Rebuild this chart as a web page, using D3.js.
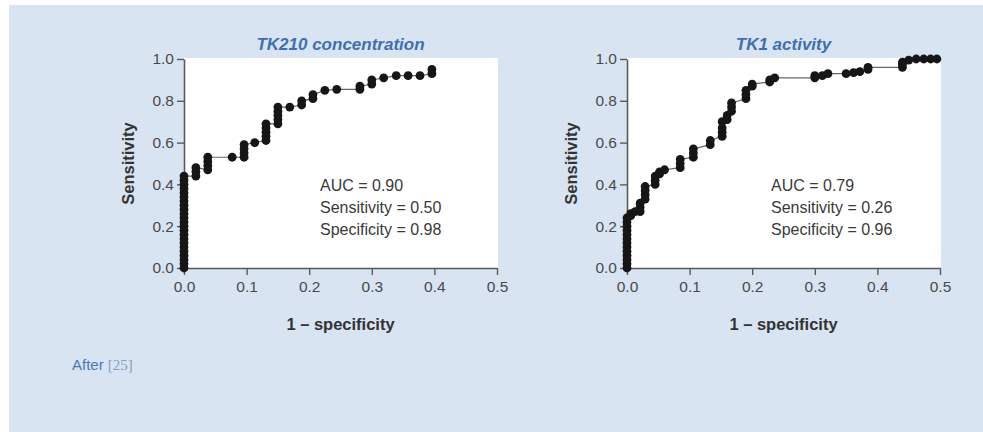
<!DOCTYPE html>
<html>
<head>
<meta charset="utf-8">
<script src="https://cdn.jsdelivr.net/npm/d3@7"></script>
<style>
  html, body { margin: 0; padding: 0; background: #ffffff; }
  svg { display: block; }
</style>
</head>
<body>
<svg id="chart" width="983" height="432"></svg>
<script>
// Axis ticks shared by both ROC panels
const xTicks = [0, 0.1, 0.2, 0.3, 0.4, 0.5];
const yTicks = [0, 0.2, 0.4, 0.6, 0.8, 1.0];

// Panel titles and summary statistics
const panelTitles = ["TK210 concentration", "TK1 activity"];
const tk210Stats = ["AUC = 0.90", "Sensitivity = 0.50", "Specificity = 0.98"];
const tk1Stats = ["AUC = 0.79", "Sensitivity = 0.26", "Specificity = 0.96"];

// ROC points: 1 - specificity and sensitivity, TK210 concentration
const tk210Fpr = [
  0, 0, 0, 0, 0, 0, 0, 0, 0, 0, 0, 0, 0, 0, 0, 0, 0, 0, 0, 0, 0, 0, 0,
  0.019, 0.019, 0.019,
  0.038, 0.038, 0.038, 0.038,
  0.077,
  0.096, 0.096, 0.096, 0.096,
  0.113,
  0.131, 0.131, 0.131, 0.131, 0.131,
  0.150, 0.150, 0.150, 0.150, 0.150,
  0.169,
  0.188, 0.188,
  0.206, 0.206,
  0.225,
  0.244,
  0.281, 0.281,
  0.300, 0.300,
  0.319, 0.339, 0.358, 0.377,
  0.396, 0.396
];
const tk210Sens = [
  0, 0.02, 0.04, 0.06, 0.08, 0.10, 0.12, 0.14, 0.16, 0.18, 0.20, 0.22,
  0.24, 0.26, 0.28, 0.30, 0.32, 0.34, 0.36, 0.38, 0.40, 0.42, 0.44,
  0.44, 0.46, 0.48,
  0.47, 0.49, 0.51, 0.53,
  0.53,
  0.53, 0.55, 0.57, 0.59,
  0.60,
  0.61, 0.63, 0.65, 0.67, 0.69,
  0.69, 0.71, 0.73, 0.75, 0.77,
  0.77,
  0.78, 0.80,
  0.81, 0.83,
  0.85,
  0.855,
  0.855, 0.87,
  0.88, 0.90,
  0.91, 0.92, 0.92, 0.92,
  0.93, 0.95
];

// ROC points: 1 - specificity and sensitivity, TK1 activity
const tk1Fpr = [
  0, 0, 0, 0, 0, 0, 0, 0, 0, 0, 0, 0, 0,
  0.006, 0.006, 0.013,
  0.021, 0.021, 0.021,
  0.029, 0.029, 0.029, 0.029,
  0.045, 0.045, 0.045,
  0.052, 0.052,
  0.060,
  0.085, 0.085, 0.085,
  0.106, 0.106, 0.106,
  0.133, 0.133,
  0.152, 0.152, 0.152, 0.152,
  0.160, 0.160,
  0.167, 0.167, 0.167,
  0.190, 0.190, 0.190,
  0.200, 0.200,
  0.228, 0.228,
  0.236,
  0.300, 0.300,
  0.312, 0.321,
  0.350, 0.362, 0.372,
  0.385, 0.385,
  0.440, 0.440, 0.440,
  0.450, 0.462, 0.474, 0.485, 0.495
];
const tk1Sens = [
  0, 0.02, 0.04, 0.06, 0.08, 0.10, 0.12, 0.14, 0.16, 0.18, 0.20, 0.22, 0.24,
  0.25, 0.26, 0.27,
  0.27, 0.29, 0.31,
  0.33, 0.35, 0.37, 0.39,
  0.40, 0.42, 0.44,
  0.45, 0.46,
  0.47,
  0.48, 0.50, 0.52,
  0.53, 0.55, 0.57,
  0.59, 0.61,
  0.63, 0.65, 0.67, 0.70,
  0.71, 0.73,
  0.75, 0.77, 0.79,
  0.81, 0.83, 0.85,
  0.87, 0.88,
  0.89, 0.90,
  0.91,
  0.91, 0.92,
  0.92, 0.93,
  0.93, 0.935, 0.94,
  0.95, 0.96,
  0.96, 0.975, 0.985,
  0.995, 1.0, 1.0, 1.0, 1.0
];

const svg = d3.select("#chart");

// Light blue box behind both panels
svg.append("rect")
  .attr("x", 9).attr("y", 5)
  .attr("width", 974).attr("height", 427)
  .attr("fill", "#d9e4f2");

const sansFont = "'Liberation Sans', Arial, Helvetica, sans-serif";
const plotW = 313, plotTop = 59, plotBottom = 268;

function drawPanel(left, title, fpr, sens, stats, statsX) {
  const x = d3.scaleLinear().domain([0, 0.5]).range([left, left + plotW]);
  const y = d3.scaleLinear().domain([0, 1]).range([plotBottom, plotTop]);
  const g = svg.append("g");

  // White plotting area
  g.append("rect")
    .attr("x", x(0)).attr("y", y(1) - 1)
    .attr("width", x(0.5) - x(0) + 1).attr("height", y(0) - y(1) + 1)
    .attr("fill", "#ffffff");

  // Axes
  const xAxis = g.append("g")
    .attr("transform", `translate(0,${plotBottom})`)
    .call(d3.axisBottom(x).tickValues(xTicks).tickFormat(d3.format(".1f"))
      .tickSize(7).tickSizeOuter(0).tickPadding(6));
  const yAxis = g.append("g")
    .attr("transform", `translate(${left},0)`)
    .call(d3.axisLeft(y).tickValues(yTicks).tickFormat(d3.format(".1f"))
      .tickSize(7).tickSizeOuter(0).tickPadding(3));
  [xAxis, yAxis].forEach(a => {
    a.select(".domain").attr("stroke", "#5a5a5a").attr("stroke-width", 1.6);
    a.selectAll(".tick line").attr("stroke", "#5a5a5a").attr("stroke-width", 1.4);
    a.selectAll(".tick text")
      .attr("fill", "#4a4a4a")
      .style("font-family", sansFont)
      .style("font-size", "15.5px");
  });

  // Title
  g.append("text")
    .attr("x", x(0.25)).attr("y", 50)
    .attr("text-anchor", "middle")
    .attr("fill", "#3f6fae")
    .style("font-family", sansFont)
    .style("font-size", "17px")
    .style("font-weight", "bold")
    .style("font-style", "italic")
    .text(title);

  // Axis titles
  g.append("text")
    .attr("x", x(0.25)).attr("y", 330)
    .attr("text-anchor", "middle")
    .attr("fill", "#333333")
    .style("font-family", sansFont)
    .style("font-size", "16.5px")
    .style("font-weight", "bold")
    .text("1 \u2013 specificity");
  g.append("text")
    .attr("transform", `translate(${left - 56},${y(0.5)}) rotate(-90)`)
    .attr("text-anchor", "middle")
    .attr("dy", "0.35em")
    .attr("fill", "#333333")
    .style("font-family", sansFont)
    .style("font-size", "16.5px")
    .style("font-weight", "bold")
    .text("Sensitivity");

  // ROC curve: connecting line, then markers
  const pts = fpr.map((f, i) => [f, sens[i]]);
  g.append("path")
    .datum(pts)
    .attr("fill", "none")
    .attr("stroke", "#666666")
    .attr("stroke-width", 1.2)
    .attr("d", d3.line().x(d => x(d[0])).y(d => y(d[1])));
  g.append("g").selectAll("circle")
    .data(pts)
    .join("circle")
    .attr("cx", d => x(d[0]))
    .attr("cy", d => y(d[1]))
    .attr("r", 4.4)
    .attr("fill", "#161616");

  // Summary statistics
  g.append("g").selectAll("text")
    .data(stats)
    .join("text")
    .attr("x", statsX)
    .attr("y", (d, i) => 191 + i * 22)
    .attr("fill", "#3a3a3a")
    .style("font-family", sansFont)
    .style("font-size", "16px")
    .text(d => d);
}

drawPanel(184, panelTitles[0], tk210Fpr, tk210Sens, tk210Stats, 320);
drawPanel(627, panelTitles[1], tk1Fpr, tk1Sens, tk1Stats, 771);

// Source note
const note = svg.append("text")
  .attr("x", 72).attr("y", 370)
  .style("font-size", "15px");
note.append("tspan")
  .attr("fill", "#4a7bb3")
  .style("font-family", sansFont)
  .text("After ");
note.append("tspan")
  .attr("fill", "#7f9fc8")
  .style("font-family", "'Liberation Serif', 'Times New Roman', serif")
  .text("[25]");
</script>
</body>
</html>
